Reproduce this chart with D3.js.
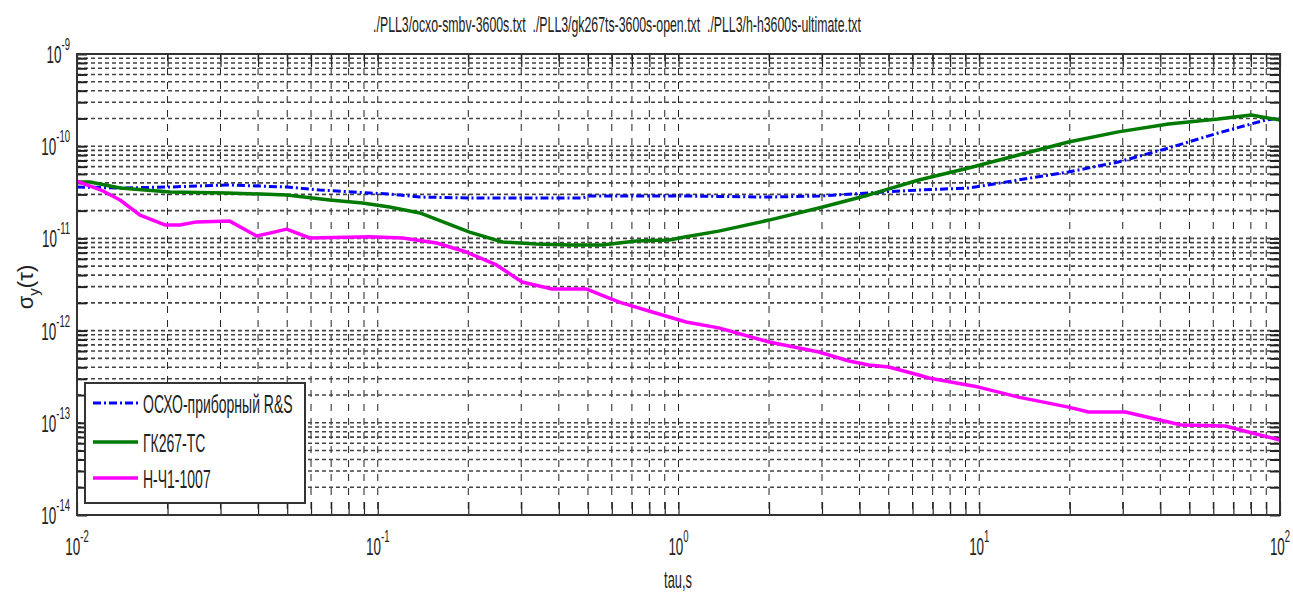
<!DOCTYPE html>
<html>
<head>
<meta charset="utf-8">
<script src="https://cdn.jsdelivr.net/npm/d3@7"></script>
<style>
  html, body { margin: 0; padding: 0; background: #fff; }
  svg { display: block; }
  text { font-family: "Liberation Sans", Arial, sans-serif; fill: #222; white-space: pre; }
</style>
</head>
<body>
<svg id="chart" width="1293" height="592"></svg>
<script>
// Allan deviation curves, tau in seconds, sigma_y dimensionless
const titleText = "./PLL3/ocxo-smbv-3600s.txt  ./PLL3/gk267ts-3600s-open.txt  ./PLL3/h-h3600s-ultimate.txt";
const seriesNames = ["ОСХО-приборный R&S", "ГК267-ТС", "Н-Ч1-1007"];

const ocxoTau   = [0.01, 0.0139, 0.0204, 0.0315, 0.0498, 0.0641, 0.094, 0.1094, 0.138, 0.202, 0.479, 0.505, 1.06, 2.00, 2.93, 4.29, 6.29, 9.22, 13.5, 19.8, 29.0, 42.6, 62.3, 89.3, 100];
const ocxoSigma = [3.61e-11, 3.52e-11, 3.61e-11, 3.80e-11, 3.61e-11, 3.35e-11, 3.11e-11, 3.03e-11, 2.81e-11, 2.74e-11, 2.74e-11, 2.88e-11, 2.88e-11, 2.81e-11, 2.88e-11, 3.11e-11, 3.35e-11, 3.52e-11, 4.30e-11, 5.25e-11, 6.74e-11, 9.56e-11, 1.39e-10, 1.92e-10, 2.02e-10];

const gkTau   = [0.01, 0.01105, 0.0139, 0.0204, 0.0315, 0.0498, 0.0692, 0.089, 0.1094, 0.138, 0.202, 0.260, 0.337, 0.433, 0.557, 0.723, 0.931, 1.06, 1.36, 2.00, 2.93, 4.29, 6.29, 9.22, 13.5, 19.8, 29.0, 42.6, 62.3, 80.2, 100];
const gkSigma = [4.09e-11, 4.09e-11, 3.52e-11, 3.19e-11, 3.11e-11, 2.96e-11, 2.61e-11, 2.42e-11, 2.19e-11, 1.89e-11, 1.17e-11, 9.14e-12, 8.69e-12, 8.48e-12, 8.48e-12, 9.37e-12, 9.61e-12, 1.04e-11, 1.20e-11, 1.58e-11, 2.14e-11, 2.96e-11, 4.30e-11, 5.80e-11, 8.03e-11, 1.11e-10, 1.43e-10, 1.74e-10, 1.97e-10, 2.18e-10, 1.92e-10];

const hTau   = [0.01, 0.0122, 0.0139, 0.0162, 0.0196, 0.0220, 0.0250, 0.0322, 0.0396, 0.0437, 0.0498, 0.0594, 0.094, 0.121, 0.157, 0.197, 0.248, 0.302, 0.380, 0.493, 0.635, 0.818, 1.06, 1.36, 2.00, 2.93, 3.69, 4.29, 5.00, 6.29, 6.79, 9.95, 13.5, 19.8, 23.1, 30.6, 47.0, 65.8, 78.4, 100];
const hSigma = [4.19e-11, 3.27e-11, 2.61e-11, 1.79e-11, 1.40e-11, 1.40e-11, 1.51e-11, 1.54e-11, 1.06e-11, 1.14e-11, 1.26e-11, 1.01e-11, 1.04e-11, 1.01e-11, 8.91e-12, 7.12e-12, 5.15e-12, 3.37e-12, 2.83e-12, 2.83e-12, 2.04e-12, 1.59e-12, 1.24e-12, 1.07e-12, 7.52e-13, 5.86e-13, 4.68e-13, 4.23e-13, 4.03e-13, 3.30e-13, 3.06e-13, 2.44e-13, 1.90e-13, 1.48e-13, 1.31e-13, 1.31e-13, 9.46e-14, 9.23e-14, 7.95e-14, 6.51e-14];

const xDecades = [-2, -1, 0, 1, 2];
const yDecades = [-9, -10, -11, -12, -13, -14];

const xLabel = "tau,s";

// ---- layout ----
const W = 1293, H = 592;
const plot = { left: 77, right: 1280, top: 54, bottom: 515 };
const SX = 0.56; // horizontal squeeze of the narrow lettering

const svg = d3.select("#chart");

const x = d3.scaleLog().domain([1e-2, 1e2]).range([plot.left, plot.right]);
const y = d3.scaleLog().domain([1e-14, 1e-9]).range([plot.bottom, plot.top]);

const xTicks = x.ticks();
const yTicks = y.ticks();

// ---- grid ----
const grid = svg.append("g");
grid.selectAll("line.gx").data(xTicks.filter(v => v > 1e-2 && v < 1e2)).join("line")
  .attr("x1", d => x(d)).attr("x2", d => x(d))
  .attr("y1", plot.top).attr("y2", plot.bottom)
  .attr("stroke", "#222").attr("stroke-width", 1).attr("stroke-dasharray", "7,7");
grid.selectAll("line.gy").data(yTicks.filter(v => v > 1e-14 && v < 1e-9)).join("line")
  .attr("x1", plot.left).attr("x2", plot.right)
  .attr("y1", d => y(d)).attr("y2", d => y(d))
  .attr("stroke", "#444").attr("stroke-width", 1.6).attr("stroke-dasharray", "4,3");

// ---- tick marks on all four sides ----
function tickAxis(axis, tx, ty, len) {
  const g = svg.append("g").attr("transform", `translate(${tx},${ty})`)
    .call(axis.tickSize(len).tickFormat(""));
  g.select(".domain").remove();
  g.selectAll(".tick line").attr("stroke", "#222");
  return g;
}
tickAxis(d3.axisBottom(x).tickValues(xTicks), 0, plot.bottom, -13).selectAll(".tick line").attr("stroke-width", 1.2);
tickAxis(d3.axisTop(x).tickValues(xTicks), 0, plot.top, -13).selectAll(".tick line").attr("stroke-width", 1.2);
tickAxis(d3.axisLeft(y).tickValues(yTicks), plot.left, 0, -10).selectAll(".tick line").attr("stroke-width", 2);
tickAxis(d3.axisRight(y).tickValues(yTicks), plot.right, 0, -10).selectAll(".tick line").attr("stroke-width", 2);

// ---- curves ----
const line = d3.line().x(d => x(d[0])).y(d => y(d[1]));
const zip = (a, b) => a.map((v, i) => [v, b[i]]);

const series = [
  { name: seriesNames[0], data: zip(ocxoTau, ocxoSigma), color: "#0000ff", width: 3, dash: "8,3,2,3" },
  { name: seriesNames[1], data: zip(gkTau, gkSigma), color: "#007a00", width: 3.5, dash: null },
  { name: seriesNames[2], data: zip(hTau, hSigma), color: "#ff00ff", width: 3.5, dash: null }
];

const curves = svg.append("g");
series.forEach(s => {
  curves.append("path").datum(s.data)
    .attr("d", line)
    .attr("fill", "none")
    .attr("stroke", s.color)
    .attr("stroke-width", s.width)
    .attr("stroke-linejoin", "round")
    .attr("stroke-dasharray", s.dash);
});

// ---- axes box ----
svg.append("rect")
  .attr("x", plot.left).attr("y", plot.top)
  .attr("width", plot.right - plot.left).attr("height", plot.bottom - plot.top)
  .attr("fill", "none").attr("stroke", "#333").attr("stroke-width", 2);

// ---- text helpers ----
function sText(px, py, size, anchor) {
  return svg.append("text")
    .attr("transform", `translate(${px},${py}) scale(${SX},1)`)
    .attr("font-size", size)
    .attr("text-anchor", anchor);
}
function powerLabel(px, py, exp, anchor) {
  const t = sText(px, py, 24, anchor);
  t.append("tspan").text("10");
  t.append("tspan").attr("dy", -13).attr("font-size", 17).text(exp);
}

// tick labels
xDecades.forEach(e => powerLabel(x(Math.pow(10, e)), 555, String(e), "middle"));
yDecades.forEach(e => powerLabel(70, y(Math.pow(10, e)) + 9, String(e), "end"));

// title
sText(617, 32, 22, "middle").text(titleText);

// x label
sText(678, 588, 23, "middle").text(xLabel);

// y label: sigma_y(tau)
const yl = svg.append("text")
  .attr("transform", `translate(33,287) rotate(-90)`)
  .attr("font-size", 22)
  .attr("text-anchor", "middle");
yl.append("tspan").text("σ");
yl.append("tspan").attr("dy", 6).attr("font-size", 15).text("y");
yl.append("tspan").attr("dy", -6).text("(τ)");

// ---- legend ----
const lg = svg.append("g");
lg.append("rect")
  .attr("x", 85).attr("y", 383).attr("width", 220).attr("height", 120)
  .attr("fill", "#fff").attr("stroke", "#333").attr("stroke-width", 2);
const legendRows = [403, 442, 478];
series.forEach((s, i) => {
  lg.append("line")
    .attr("x1", 93).attr("x2", 138)
    .attr("y1", legendRows[i]).attr("y2", legendRows[i])
    .attr("stroke", s.color).attr("stroke-width", s.width)
    .attr("stroke-dasharray", s.dash);
  sText(143, legendRows[i] + 10, 25, "start").text(s.name);
});
</script>
</body>
</html>
